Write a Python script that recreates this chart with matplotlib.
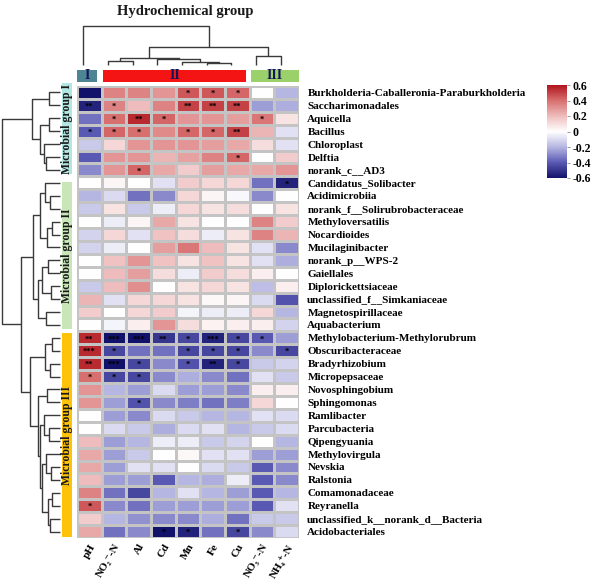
import numpy as np
import matplotlib
matplotlib.use('Agg')
from matplotlib import pyplot as plt
from matplotlib.colors import LinearSegmentedColormap
from matplotlib.patches import Rectangle

plt.rcParams['font.family'] = ['Liberation Serif', 'DejaVu Serif']
plt.rcParams['font.weight'] = 'bold'

factors = ['pH', 'NO₂⁻-N', 'Al', 'Cd', 'Mn', 'Fe', 'Cu', 'NO₃⁻-N', 'NH₄⁺-N']

taxa = [
    'Burkholderia-Caballeronia-Paraburkholderia', 'Saccharimonadales', 'Aquicella',
    'Bacillus', 'Chloroplast', 'Delftia', 'norank_c__AD3',
    'Candidatus_Solibacter', 'Acidimicrobiia', 'norank_f__Solirubrobacteraceae',
    'Methyloversatilis', 'Nocardioides', 'Mucilaginibacter', 'norank_p__WPS-2',
    'Gaiellales', 'Diplorickettsiaceae', 'unclassified_f__Simkaniaceae',
    'Magnetospirillaceae', 'Aquabacterium',
    'Methylobacterium-Methylorubrum', 'Obscuribacteraceae', 'Bradyrhizobium',
    'Micropepsaceae', 'Novosphingobium', 'Sphingomonas', 'Ramlibacter',
    'Parcubacteria', 'Qipengyuania', 'Methylovirgula', 'Nevskia', 'Ralstonia',
    'Comamonadaceae', 'Reyranella', 'unclassified_k__norank_d__Bacteria',
    'Acidobacteriales',
]

# correlation values (rows = taxa, cols = factors)
corr = np.array([
    [-0.60, 0.35, 0.35, 0.30, 0.45, 0.45, 0.42, 0.00, -0.20],
    [-0.55, 0.35, 0.20, 0.35, 0.50, 0.50, 0.50, -0.25, -0.22],
    [-0.35, 0.40, 0.55, 0.42, 0.30, 0.30, 0.28, 0.38, 0.08],
    [-0.40, 0.42, 0.40, 0.33, 0.42, 0.42, 0.50, 0.22, -0.08],
    [-0.15, 0.12, 0.30, 0.30, 0.30, 0.28, 0.25, 0.10, -0.08],
    [-0.40, 0.30, 0.30, 0.22, 0.27, 0.35, 0.42, 0.00, 0.15],
    [-0.30, 0.30, 0.42, 0.25, 0.15, 0.28, 0.25, 0.25, 0.30],
    [0.00, 0.03, 0.00, -0.08, 0.15, 0.12, 0.12, -0.35, -0.55],
    [-0.20, -0.10, -0.35, -0.30, 0.12, 0.03, -0.02, -0.30, 0.00],
    [-0.15, 0.08, -0.15, -0.05, 0.12, 0.08, 0.10, 0.00, 0.08],
    [0.00, -0.05, 0.03, 0.25, 0.08, 0.00, 0.00, 0.35, 0.15],
    [-0.12, 0.12, -0.08, 0.18, 0.10, -0.05, 0.08, 0.35, 0.22],
    [-0.12, -0.05, 0.00, 0.28, 0.38, 0.20, 0.08, -0.08, -0.30],
    [0.00, 0.18, 0.30, 0.18, 0.08, 0.18, 0.08, -0.08, -0.22],
    [0.00, 0.20, 0.28, 0.10, -0.05, 0.15, 0.10, 0.05, 0.00],
    [-0.15, 0.20, 0.32, 0.00, 0.08, 0.12, 0.08, -0.18, 0.05],
    [0.22, -0.08, 0.12, 0.12, 0.08, 0.02, 0.03, -0.10, -0.42],
    [0.15, 0.00, 0.12, 0.15, -0.03, -0.05, -0.05, 0.12, -0.20],
    [0.00, -0.03, 0.05, 0.30, 0.10, 0.04, 0.05, 0.05, -0.12],
    [0.55, -0.60, -0.60, -0.50, -0.45, -0.55, -0.45, -0.40, -0.25],
    [0.55, -0.45, -0.35, -0.35, -0.45, -0.45, -0.45, -0.30, -0.45],
    [0.55, -0.60, -0.45, -0.30, -0.42, -0.55, -0.45, -0.15, -0.12],
    [0.40, -0.45, -0.45, -0.30, -0.22, -0.30, -0.35, -0.08, -0.15],
    [0.30, -0.20, -0.25, -0.10, -0.25, -0.25, -0.30, 0.05, 0.05],
    [0.30, -0.25, -0.42, -0.30, -0.32, -0.35, -0.32, 0.12, 0.00],
    [0.00, -0.25, -0.30, -0.10, -0.15, -0.20, -0.20, -0.08, -0.10],
    [0.00, -0.10, -0.15, -0.22, -0.10, -0.08, -0.20, -0.15, -0.10],
    [0.20, -0.25, -0.20, -0.05, -0.05, -0.15, -0.12, 0.00, -0.20],
    [0.25, -0.25, -0.15, 0.00, 0.02, -0.08, -0.08, -0.25, -0.25],
    [0.25, -0.25, -0.08, -0.08, 0.00, -0.10, -0.15, -0.40, -0.30],
    [0.20, -0.25, -0.25, -0.40, -0.20, -0.22, -0.05, -0.40, -0.30],
    [0.35, -0.35, -0.45, -0.20, -0.08, -0.20, -0.25, -0.40, -0.20],
    [0.45, -0.30, -0.35, -0.25, -0.25, -0.25, -0.25, -0.40, -0.08],
    [0.15, -0.20, -0.28, -0.30, -0.30, -0.22, -0.35, -0.15, -0.15],
    [0.25, -0.35, -0.30, -0.60, -0.55, -0.35, -0.45, -0.30, -0.10],
])

# significance marks: (row, col, text)
stars = [
    (0, 4, '*'), (0, 5, '*'), (0, 6, '*'),
    (1, 0, '**'), (1, 1, '*'), (1, 4, '**'), (1, 5, '**'), (1, 6, '**'),
    (2, 1, '*'), (2, 2, '**'), (2, 3, '*'), (2, 7, '*'),
    (3, 0, '*'), (3, 1, '*'), (3, 2, '*'), (3, 4, '*'), (3, 5, '*'), (3, 6, '**'),
    (5, 6, '*'), (6, 2, '*'), (7, 8, '*'),
    (19, 0, '**'), (19, 1, '***'), (19, 2, '***'), (19, 3, '**'), (19, 4, '*'),
    (19, 5, '***'), (19, 6, '*'), (19, 7, '*'),
    (20, 0, '***'), (20, 1, '*'), (20, 4, '*'), (20, 5, '*'), (20, 6, '*'), (20, 8, '*'),
    (21, 0, '**'), (21, 1, '***'), (21, 2, '*'), (21, 4, '*'), (21, 5, '**'), (21, 6, '*'),
    (22, 0, '*'), (22, 1, '*'), (22, 2, '*'),
    (24, 2, '*'), (32, 0, '*'),
    (34, 3, '*'), (34, 4, '*'), (34, 6, '*'),
]

# groups: (label, first index, last index, colour)
col_groups = [('I', 0, 0, '#4d8595'), ('II', 1, 6, '#f41414'), ('III', 7, 8, '#9bd16a')]
row_groups = [('Microbial group I', 0, 6, '#b3e5e3'),
              ('Microbial group II', 7, 18, '#c8e6b7'),
              ('Microbial group III', 19, 34, '#ffc20a')]

# dendrograms as (height, left, right); leaves are indices
col_tree = (39, 0, (18, (7, (4, 1, 2), (6, 3, (3, 4, (2, 5, 6)))), (9, 7, 8)))
g1 = (28, (11, 0, 1), (20, (11, 2, 3), (16, 4, (14, 5, 6))))
g2 = (27, (20, (15, 7, (10, 8, 9)), (13, (8, 10, 11), 12)),
      (22, (18, (12, 13, 14), (9, 15, 16)), (14, 17, 18)))
g3 = (30, (15, (8, 19, 20), (10, 21, 22)),
      (22, (13, 23, 24),
       (20, (16, 25, (11, 26, 27)),
        (18, (14, 28, (9, 29, 30)), (12, (8, 31, 32), (10, 33, 34))))))
row_tree = (58, g1, (39, g2, g3))

W, H = 591, 585
fig = plt.figure(figsize=(W / 100, H / 100), dpi=100)


def px_axes(x0, y0, x1, y1):
    return fig.add_axes([x0 / W, 1 - y1 / H, (x1 - x0) / W, (y1 - y0) / H])


def draw_tree(ax, node, horizontal, offset=0.5):
    # returns (leaf position, height) of node
    if isinstance(node, int):
        return node + offset, 0
    h, l, r = node
    pl, hl = draw_tree(ax, l, horizontal, offset)
    pr, hr = draw_tree(ax, r, horizontal, offset)
    a = [pl, pl, pr, pr]
    b = [hl, h, h, hr]
    if horizontal:
        ax.plot(a, b, color='#3a3a3a', lw=1.0, solid_capstyle='butt')
    else:
        ax.plot(b, a, color='#3a3a3a', lw=1.0, solid_capstyle='butt')
    return (pl + pr) / 2, h


cmap = LinearSegmentedColormap.from_list(
    'rb', ['#12126a', '#5a5ab4', '#b6b6e2', '#ffffff', '#eebcbc', '#d87070', '#b0141c'])

# heatmap
ax = px_axes(77, 86, 299, 538)
nr, nc = corr.shape
mesh = ax.pcolormesh(np.arange(nc + 1), np.arange(nr + 1), corr, cmap=cmap,
                     vmin=-0.6, vmax=0.6, edgecolors='#c4c4c4', linewidth=0.9)
ax.set_xlim(0, nc)
ax.set_ylim(nr, 0)
for r, c, s in stars:
    ax.text(c + 0.5, r + 0.62, s, ha='center', va='center', fontsize=6, color='black')
ax.set_yticks(np.arange(nr) + 0.5)
ax.set_yticklabels(taxa, fontsize=8)
ax.yaxis.tick_right()
ax.set_xticks(np.arange(nc) + 0.5)
ax.set_xticklabels(factors, fontsize=8, rotation=60, ha='right', rotation_mode='anchor')
ax.tick_params(axis='x', length=0, pad=3)
ax.tick_params(axis='y', length=0, pad=6)
for sp in ax.spines.values():
    sp.set_visible(False)

# column dendrogram + group bar (y = 65 - pixel row)
axt = px_axes(77, 20, 299, 83)
draw_tree(axt, col_tree, True, offset=0.25)
for lab, i0, i1, colr in col_groups:
    x0 = i0 + (0.0 if i0 == 0 else 0.05)
    x1 = i1 + (0.8 if i1 == 0 else 0.85 if i1 == 6 else 1.0)
    axt.add_patch(Rectangle((x0, -17), x1 - x0, 12, color=colr, lw=0))
    axt.text((x0 + x1) / 2, -11, lab, ha='center', va='center', fontsize=10,
             color='#14145a')
axt.set_xlim(0, nc)
axt.set_ylim(-18, 45)
axt.axis('off')

# row dendrogram + group bar (x = 60 - pixel column)
axl = px_axes(0, 86, 75, 538)
draw_tree(axl, row_tree, False)
gaps = {0: (-0.25, 6.85), 7: (7.45, 18.85), 19: (19.15, 34.95)}
for lab, i0, i1, colr in row_groups:
    y0, y1 = gaps[i0]
    axl.add_patch(Rectangle((-12, y0), 10, y1 - y0, color=colr, lw=0, clip_on=False))
    axl.text(-7, (y0 + y1) / 2, lab, rotation=90, ha='center', va='center',
             fontsize=8.5, color='#1a1a1a')
axl.set_xlim(60, -15)
axl.set_ylim(nr, 0)
axl.axis('off')

# colour bar
cax = px_axes(547, 85, 567, 178)
cb = fig.colorbar(mesh, cax=cax, ticks=[0.6, 0.4, 0.2, 0, -0.2, -0.4, -0.6])
cb.outline.set_visible(False)
cb.ax.set_yticklabels(['0.6', '0.4', '0.2', '0', '-0.2', '-0.4', '-0.6'])
cb.ax.tick_params(labelsize=8.5, length=2, width=0.6, color='#888888', pad=2)

fig.text(185 / W, 1 - 12 / H, 'Hydrochemical group', ha='center', va='center',
         fontsize=10.5, color='#1a1a1a')

fig.savefig('out.png', dpi=100)
